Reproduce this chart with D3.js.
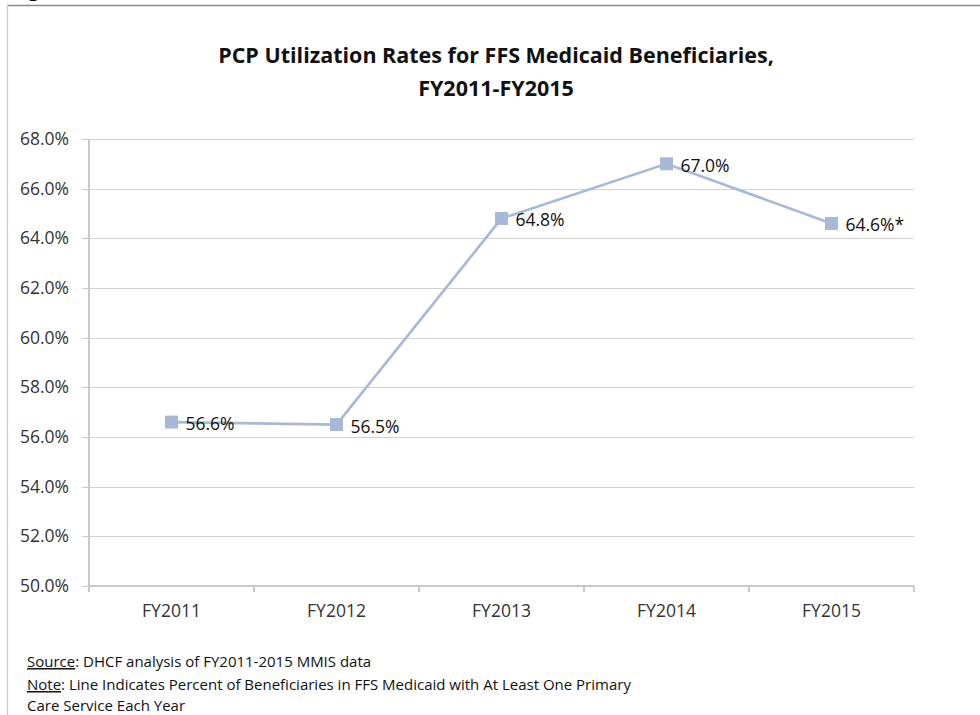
<!DOCTYPE html>
<html>
<head>
<meta charset="utf-8">
<script src="https://cdn.jsdelivr.net/npm/d3@7"></script>
<style>
  body { margin: 0; background: #fff; }
  svg { font-family: "Open Sans", sans-serif; }
  .grid line { stroke: #d0d0d0; stroke-width: 1.3; shape-rendering: crispEdges; }
  .axis path, .axis line { stroke: #c8c8c8; stroke-width: 1.3; shape-rendering: crispEdges; }
</style>
</head>
<body>
<div id="chart"></div>
<script>
// data
var years = ["FY2011", "FY2012", "FY2013", "FY2014", "FY2015"];
var rates = [56.6, 56.5, 64.8, 67.0, 64.6];
var rateLabels = ["56.6%", "56.5%", "64.8%", "67.0%", "64.6%*"];
var yTicks = [50, 52, 54, 56, 58, 60, 62, 64, 66, 68];

var w = 980, h = 715;
var margin = { top: 139, right: 66, bottom: 129, left: 89 };
var width = w - margin.left - margin.right;
var height = h - margin.top - margin.bottom;

var svg = d3.select("#chart").append("svg")
  .attr("width", w)
  .attr("height", h);

// frame (page border, partly cut off)
svg.append("line").attr("x1", 7).attr("x2", w).attr("y1", 5.5).attr("y2", 5.5)
  .attr("stroke", "#8a8a8a").attr("stroke-width", 1.5);
svg.append("line").attr("x1", 7.5).attr("x2", 7.5).attr("y1", 5).attr("y2", h)
  .attr("stroke", "#c8c8c8").attr("stroke-width", 1.2);
svg.append("text").attr("x", 28).attr("y", -4)
  .style("font-size", "20px").style("font-weight", "bold").text("g");

// title
var title = svg.append("text")
  .attr("text-anchor", "middle")
  .style("font-size", "21.5px").style("font-weight", "bold").attr("fill", "#111");
title.append("tspan").attr("x", 496).attr("y", 63).text("PCP Utilization Rates for FFS Medicaid Beneficiaries,");
title.append("tspan").attr("x", 496).attr("y", 96).text("FY2011-FY2015");

var g = svg.append("g")
  .attr("transform", "translate(" + margin.left + "," + margin.top + ")");

var x = d3.scaleBand().domain(years).range([0, width]);
var y = d3.scaleLinear().domain([50, 68]).range([height, 0]);

// horizontal gridlines
g.append("g")
  .attr("class", "grid")
  .call(d3.axisLeft(y).tickValues(yTicks).tickSize(-width).tickFormat(""))
  .call(function(s) { s.select(".domain").remove(); });

// y axis
var yAxis = g.append("g")
  .attr("class", "axis")
  .call(d3.axisLeft(y).tickValues(yTicks).tickSize(7).tickPadding(13)
    .tickFormat(function(d) { return d.toFixed(1) + "%"; }));
yAxis.select(".domain").attr("d", "M0,0V" + (height + 6));

// x axis with ticks at category boundaries
var xAxis = g.append("g")
  .attr("class", "axis")
  .attr("transform", "translate(0," + height + ")")
  .call(d3.axisBottom(x).tickSize(0).tickPadding(19));
xAxis.select(".domain").attr("d", "M0,0H" + width);
xAxis.selectAll(".bound")
  .data(d3.range(years.length + 1))
  .enter().append("line")
  .attr("class", "bound")
  .attr("x1", function(i) { return i * x.step(); })
  .attr("x2", function(i) { return i * x.step(); })
  .attr("y1", 0).attr("y2", 6);

g.selectAll(".axis text")
  .style("font-family", "'Open Sans', sans-serif")
  .style("font-size", "17.5px")
  .attr("fill", "#333");

var pts = years.map(function(d, i) { return { year: d, v: rates[i], label: rateLabels[i] }; });
var cx = function(d) { return x(d.year) + x.bandwidth() / 2; };

g.append("path")
  .datum(pts)
  .attr("fill", "none")
  .attr("stroke", "#a7b9d9")
  .attr("stroke-width", 2.7)
  .attr("d", d3.line().x(cx).y(function(d) { return y(d.v); }));

g.selectAll(".mark")
  .data(pts)
  .enter().append("rect")
  .attr("class", "mark")
  .attr("x", function(d) { return cx(d) - 6.5; })
  .attr("y", function(d) { return y(d.v) - 6.5; })
  .attr("width", 13).attr("height", 13)
  .attr("fill", "#a7b9d9");

g.selectAll(".lbl")
  .data(pts)
  .enter().append("text")
  .attr("class", "lbl")
  .attr("x", function(d) { return cx(d) + 14; })
  .attr("y", function(d) { return y(d.v) + 8; })
  .style("font-size", "17.5px").attr("fill", "#111")
  .text(function(d) { return d.label; });

// footnotes
var foot = svg.append("g").style("font-size", "15px").attr("fill", "#111");
var f1 = foot.append("text").attr("x", 27).attr("y", 667);
f1.append("tspan").style("text-decoration", "underline").text("Source");
f1.append("tspan").text(": DHCF analysis of FY2011-2015 MMIS data");
var f2 = foot.append("text").attr("x", 27).attr("y", 690);
f2.append("tspan").style("text-decoration", "underline").text("Note");
f2.append("tspan").text(": Line Indicates Percent of Beneficiaries in FFS Medicaid with At Least One Primary");
foot.append("text").attr("x", 27).attr("y", 711).text("Care Service Each Year");
</script>
</body>
</html>
